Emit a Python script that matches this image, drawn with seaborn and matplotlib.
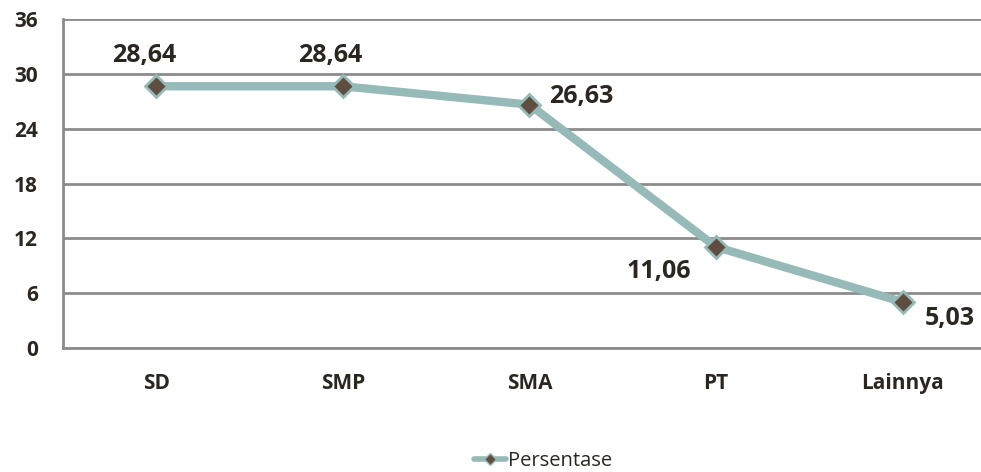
import matplotlib
matplotlib.use("Agg")
import matplotlib.pyplot as plt
from matplotlib.lines import Line2D
import seaborn as sns
import pandas as pd

categories = ["SD", "SMP", "SMA", "PT", "Lainnya"]
persentase = [28.64, 28.64, 26.63, 11.06, 5.03]
y_ticks = [0, 6, 12, 18, 24, 30, 36]
series_name = "Persentase"

sns.set_theme(style="white")
plt.rcParams["font.family"] = ["Open Sans", "DejaVu Sans"]

df = pd.DataFrame({"Pendidikan": categories, series_name: persentase})

fig = plt.figure(figsize=(9.81, 4.72), dpi=100)
ax = fig.add_axes([63 / 981, 1 - 348 / 472, 1 - 63 / 981, (348 - 19) / 472])

line_color = "#95BAB7"
marker_color = "#5F4E3F"
grid_color = "#8C8C8C"
text_color = "#2B2620"

sns.lineplot(data=df, x="Pendidikan", y=series_name, ax=ax, color=line_color,
             linewidth=6, marker="D", markersize=11, markerfacecolor=marker_color,
             markeredgecolor=line_color, markeredgewidth=2, legend=False,
             sort=False, zorder=3)

ax.set_ylim(0, 36)
ax.set_yticks(y_ticks)
ax.set_xlim(-0.5, 4.42)
ax.yaxis.grid(True, color=grid_color, linewidth=2)
ax.set_axisbelow(True)
for side in ["top", "right"]:
    ax.spines[side].set_visible(False)
ax.spines["left"].set_color(grid_color)
ax.spines["left"].set_linewidth(2)
ax.spines["bottom"].set_color(grid_color)
ax.spines["bottom"].set_linewidth(2)
ax.tick_params(axis="both", length=0, labelsize=15, labelcolor=text_color)
ax.tick_params(axis="y", pad=18)
ax.tick_params(axis="x", pad=18)
for lab in ax.get_xticklabels() + ax.get_yticklabels():
    lab.set_fontweight("bold")
ax.set_xlabel("")
ax.set_ylabel("")

# value labels placed around each point (offsets in points)
offsets = [(-9, 22, "center"), (-9, 22, "center"), (14, 6, "left"),
           (-18, -18, "right"), (16, -12, "left")]
for i, (v, (dx, dy, ha)) in enumerate(zip(persentase, offsets)):
    ax.annotate(f"{v:.2f}".replace(".", ","), (i, v), xytext=(dx, dy),
                textcoords="offset points", ha=ha, va="center", fontsize=18,
                fontweight="bold", color=text_color)

handle = Line2D([], [], color=line_color, linewidth=4, marker="D", markersize=6,
                markerfacecolor=marker_color, markeredgecolor=line_color,
                markeredgewidth=1)
leg = fig.legend([handle], [series_name], loc="center",
                 bbox_to_anchor=(543 / 981, 1 - 461 / 472), frameon=False,
                 fontsize=14.5, handlelength=1.6, handletextpad=0.1,
                 borderaxespad=0)
for t in leg.get_texts():
    t.set_color(text_color)

fig.savefig("out.png", dpi=100)
